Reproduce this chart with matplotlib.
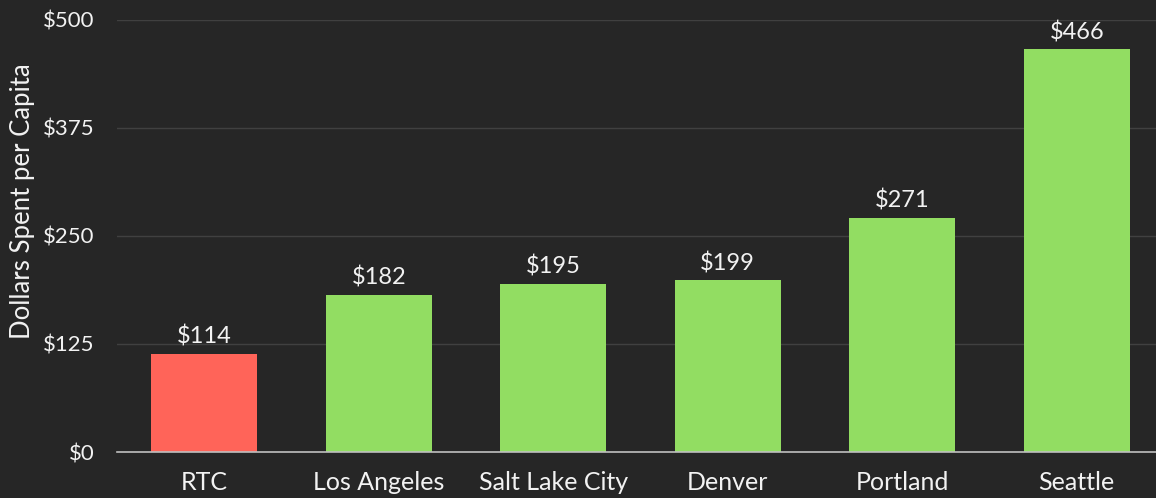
import matplotlib.pyplot as plt
from matplotlib.ticker import FuncFormatter

cities = ['RTC', 'Los Angeles', 'Salt Lake City', 'Denver', 'Portland', 'Seattle']
spend = [114, 182, 195, 199, 271, 466]
colors = ['#FF6459', '#92DD62', '#92DD62', '#92DD62', '#92DD62', '#92DD62']
yticks = [0, 125, 250, 375, 500]

bg = '#262626'
txt = '#F2F2F2'
plt.rcParams['font.family'] = ['Lato', 'DejaVu Sans']

fig = plt.figure(figsize=(11.56, 4.98), dpi=100, facecolor=bg)
ax = fig.add_axes([117/1156, 46/498, (1164-117)/1156, 432/498])
ax.set_facecolor(bg)

x = range(len(cities))
bars = ax.bar(x, spend, width=0.61, color=colors, zorder=3)
for b, v in zip(bars, spend):
    ax.text(b.get_x() + b.get_width()/2, v + 7, '$%d' % v, ha='center', va='bottom',
            color=txt, fontsize=17)

ax.set_ylim(0, 500)
ax.set_xlim(-0.5, 5.5)
ax.set_yticks(yticks)
ax.yaxis.set_major_formatter(FuncFormatter(lambda v, p: '$%d' % v))
ax.set_xticks(list(x))
ax.set_xticklabels(cities)
ax.tick_params(axis='both', length=0, colors=txt)
ax.tick_params(axis='y', pad=16, labelsize=16)
ax.tick_params(axis='x', pad=14, labelsize=18)
ax.grid(axis='y', color='#404040', linewidth=1, zorder=0)
for s in ['top', 'right', 'left']:
    ax.spines[s].set_visible(False)
ax.spines['bottom'].set_color('#BFBFBF')
ax.spines['bottom'].set_linewidth(1.2)
ax.spines['bottom'].set_zorder(4)
ax.set_ylabel('Dollars Spent per Capita', color=txt, fontsize=18.5)
ax.yaxis.set_label_coords(-0.078, 0.58)

fig.savefig('out.png', dpi=100, facecolor=bg)
